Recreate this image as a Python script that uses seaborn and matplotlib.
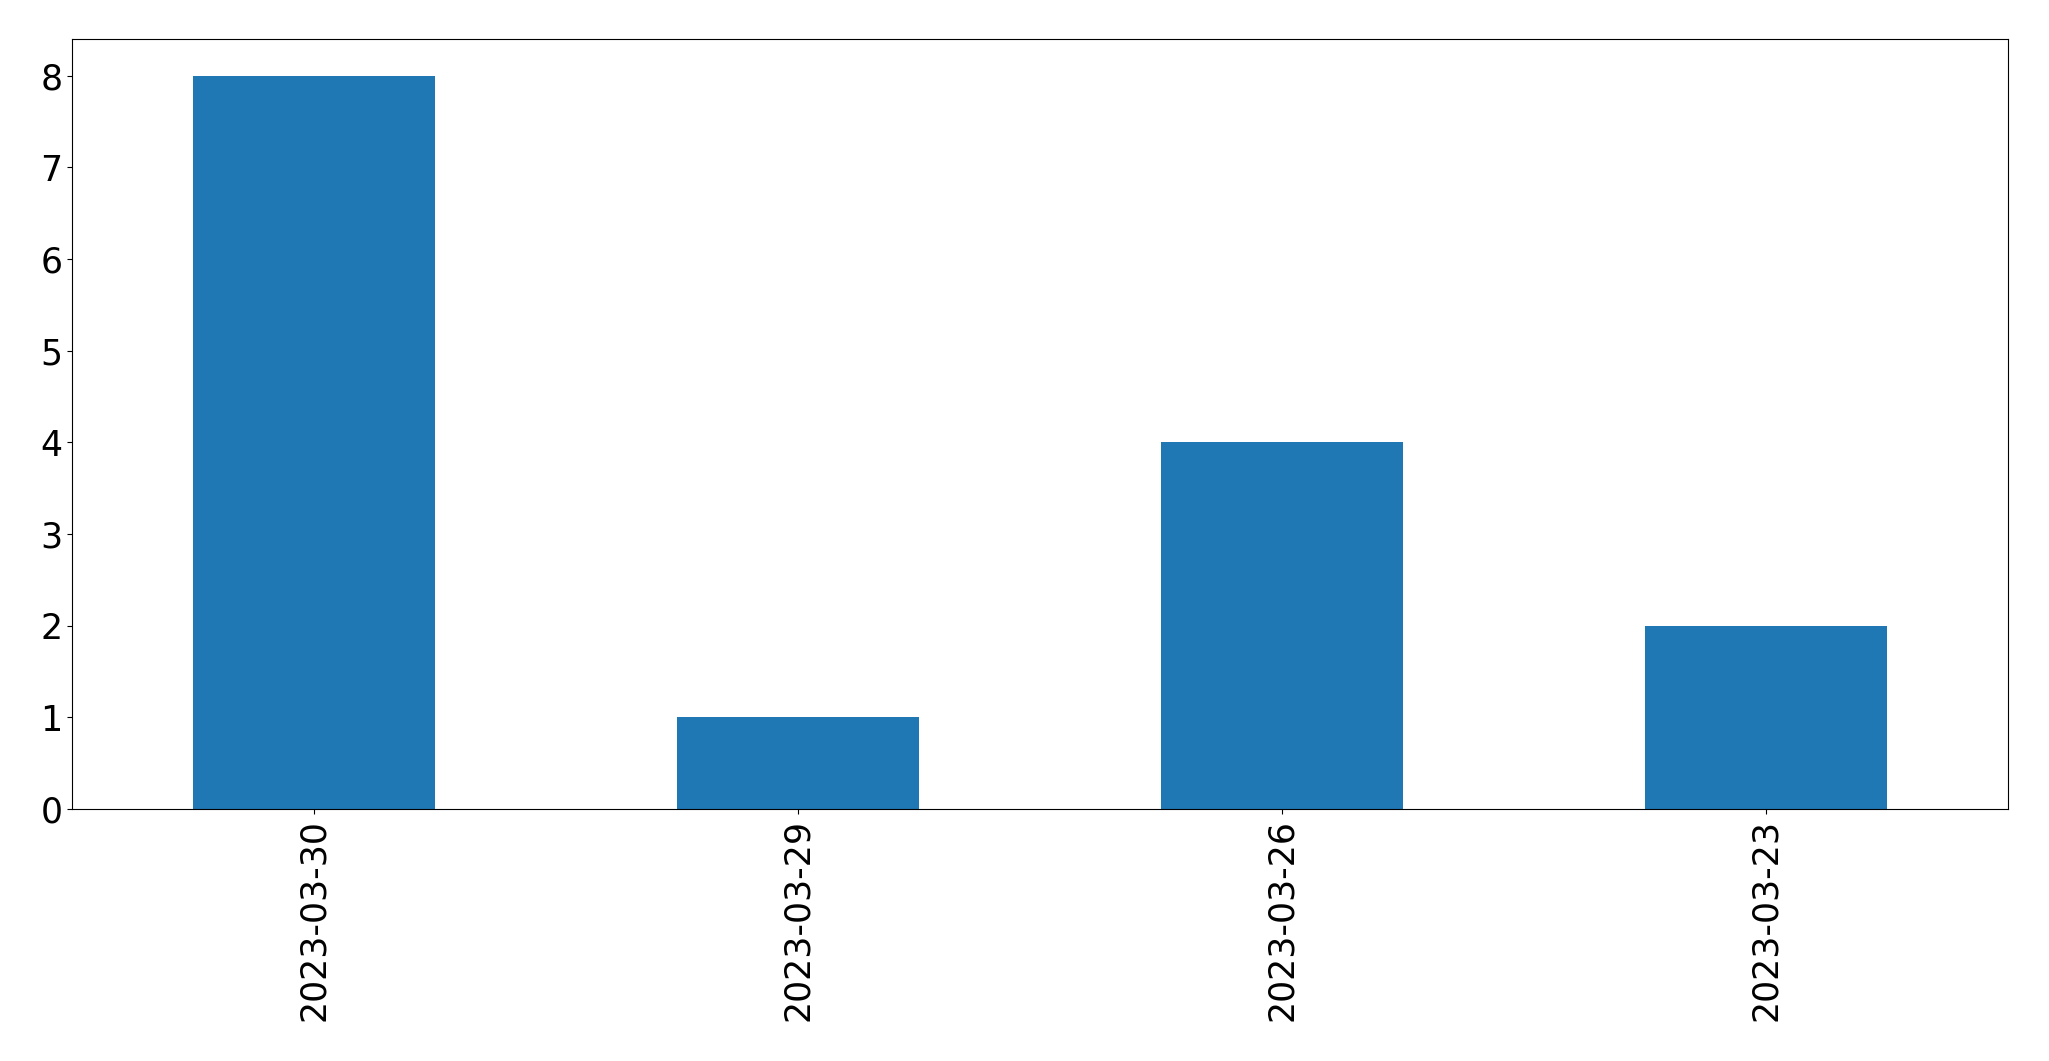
import matplotlib
matplotlib.use("Agg")
import matplotlib.pyplot as plt
import seaborn as sns
import pandas as pd

# values
dates = ["2023-03-30", "2023-03-29", "2023-03-26", "2023-03-23"]
counts = [8, 1, 4, 2]

df = pd.DataFrame({"date": dates, "count": counts})

fig = plt.figure(figsize=(20.49, 10.61), dpi=100)
ax = fig.add_axes([72 / 2049, 1 - 809 / 1061, (2008 - 72) / 2049, (809 - 39) / 1061])

sns.barplot(data=df, x="date", y="count", color="#1f77b4", saturation=1,
            width=0.5, ax=ax, errorbar=None)

ax.set_xlim(-0.5, 3.5)
ax.set_ylim(0, 8.4)
ax.set_xlabel("")
ax.set_ylabel("")
ax.tick_params(axis="both", labelsize=25)
ax.tick_params(axis="x", labelrotation=90)
for s in ax.spines.values():
    s.set_visible(True)

fig.savefig("out.png", dpi=100)
